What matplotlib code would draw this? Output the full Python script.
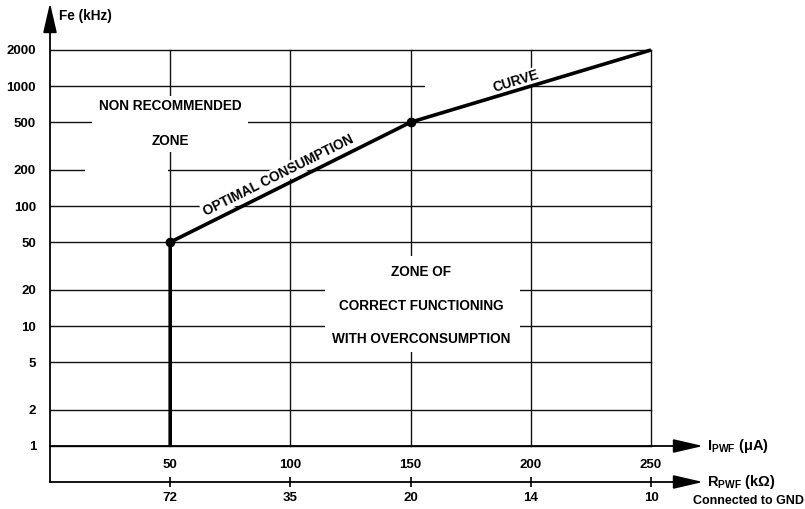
import matplotlib
matplotlib.use("Agg")
import matplotlib.pyplot as plt
from matplotlib.patches import Rectangle, FancyArrowPatch

plt.rcParams['font.family'] = ['Liberation Sans', 'DejaVu Sans']
plt.rcParams['font.weight'] = 'bold'
plt.rcParams['mathtext.fontset'] = 'custom'
plt.rcParams['mathtext.rm'] = 'Liberation Sans:bold'
plt.rcParams['mathtext.it'] = 'Liberation Sans:bold'

# ---- data ----
i_pwf = [50, 100, 150, 200, 250]            # µA
r_pwf = ["72", "35", "20", "14", "10"]       # kΩ
fe_ticks = [1, 2, 5, 10, 20, 50, 100, 200, 500, 1000, 2000]
curve_i = [50, 50, 150, 250]
curve_fe = [1, 50, 500, 2000]
knee_i = [50, 150]
knee_fe = [50, 500]

W, H = 805, 509
fig = plt.figure(figsize=(W / 100, H / 100), dpi=100)
ax = fig.add_axes([50 / W, 63 / H, 601 / W, 396 / H])
ax.set_xlim(0, 250)
ax.set_yscale('log')
ax.set_ylim(1, 2000)
for s in ax.spines.values():
    s.set_visible(False)

# grid
for f in fe_ticks:
    ax.plot([0, 250], [f, f], color='#111', lw=1.0, zorder=1, clip_on=False)
for x in i_pwf:
    ax.plot([x, x], [1, 2000], color='#111', lw=1.0, zorder=1, clip_on=False)

fig.canvas.draw()

def white_rect(x0, y0, x1, y1):
    d0 = ax.transData.inverted().transform((x0, H - y1))
    d1 = ax.transData.inverted().transform((x1, H - y0))
    ax.add_patch(Rectangle((d0[0], d0[1]), d1[0] - d0[0], d1[1] - d0[1],
                           facecolor='white', edgecolor='none', zorder=2))

white_rect(92, 96, 248, 152)
white_rect(85, 160, 168, 180)
white_rect(325, 256, 520, 352)
white_rect(425, 80, 530, 92)

# curve
ax.plot(curve_i, curve_fe, color='black', lw=2.6, zorder=4, clip_on=False,
        solid_capstyle='butt')
ax.plot(knee_i, knee_fe, 'o', color='black', ms=6, zorder=5)

# ticks
ax.set_xticks(i_pwf)
ax.set_xticklabels([str(v) for v in i_pwf], fontsize=9.5, fontweight='bold')
ax.set_yticks(fe_ticks)
ax.set_yticklabels([str(v) for v in fe_ticks], fontsize=9.5, fontweight='bold')
ax.yaxis.set_minor_locator(matplotlib.ticker.NullLocator())
ax.tick_params(axis='x', length=0, pad=9)
ax.tick_params(axis='y', length=0, pad=10)

# secondary axis (R_PWF)
ax2 = fig.add_axes([50 / W, 27 / H, 601 / W, 0.0001])
ax2.set_xlim(0, 250)
ax2.set_yticks([])
for s in ax2.spines.values():
    s.set_visible(False)
ax2.set_xticks(i_pwf)
ax2.set_xticklabels(r_pwf, fontsize=9.5, fontweight='bold')
ax2.tick_params(axis='x', direction='inout', length=7, width=1.2, pad=4)
ax2.patch.set_visible(False)

# axis arrows
arrow = dict(arrowstyle='-|>,head_length=1.3,head_width=0.3', color='black',
             lw=1.3, mutation_scale=14, shrinkA=0, shrinkB=0)
fig.add_artist(FancyArrowPatch((50, H - 446), (703, H - 446), transform=None, **arrow))
fig.add_artist(FancyArrowPatch((50, H - 482), (703, H - 482), transform=None, **arrow))
fig.add_artist(FancyArrowPatch((50, H - 482), (50, H - 3), transform=None, **arrow))

# axis labels
fig.text(59 / W, (H - 16) / H, 'Fe (kHz)', fontsize=9.8, fontweight='bold',
         va='center', ha='left')
fig.text(707 / W, (H - 446) / H, r'$\mathrm{I_{PWF}}$ ($\mu$A)', fontsize=10.5,
         va='center', ha='left')
fig.text(707 / W, (H - 482) / H, r'$\mathrm{R_{PWF}}$ (kΩ)', fontsize=10.5,
         va='center', ha='left')
fig.text(693 / W, (H - 501) / H, 'Connected to GND', fontsize=9,
         fontweight='bold', va='center', ha='left')

# zone labels
tk = dict(fontsize=9.8, fontweight='bold', ha='center', va='center', zorder=6)
ax.text(50, 680, 'NON RECOMMENDED', **tk)
ax.text(50, 350, 'ZONE', **tk)
ax.text(154.5, 28, 'ZONE OF', **tk)
ax.text(154.5, 14.7, 'CORRECT FUNCTIONING', **tk)
ax.text(154.5, 7.8, 'WITH OVERCONSUMPTION', **tk)
tr = dict(fontsize=9.8, fontweight='bold', ha='center', va='center', zorder=3,
          rotation_mode='anchor')
ax.text(95, 180, 'OPTIMAL CONSUMPTION', rotation=26.5,
        bbox=dict(facecolor='white', edgecolor='none', pad=1.0), **tr)
ax.text(194, 1100, 'CURVE', rotation=17,
        bbox=dict(facecolor='white', edgecolor='none', pad=1.0), **tr)

fig.savefig('out.png', dpi=100)
